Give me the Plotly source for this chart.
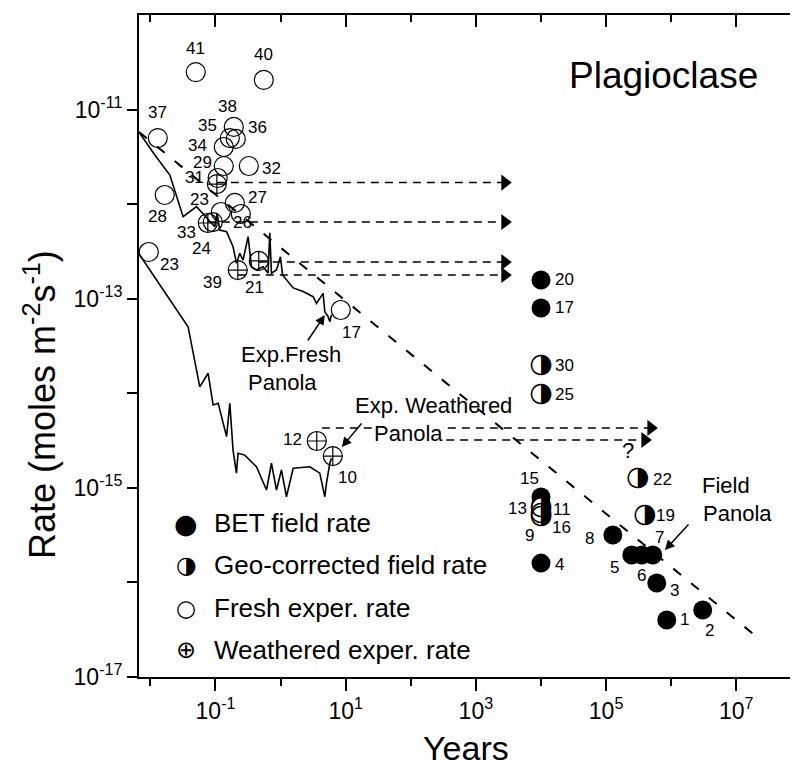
import math
import plotly.graph_objects as go

# ---------------- DATA ----------------
# BET field rates (filled circles)
bet_labels = ["20", "17", "15", "13", "4", "8", "5", "6", "7", "3", "1", "2"]
bet_years = [1e4, 1e4, 1e4, 1e4, 1e4, 1.27e5, 2.48e5, 3.54e5, 5.21e5, 6.0e5, 8.55e5, 3.05e6]
bet_rates = [1.58e-13, 7.98e-14, 8.0e-16, 6.92e-16, 1.60e-16, 3.17e-16, 1.95e-16, 1.95e-16,
             1.95e-16, 9.86e-17, 4.01e-17, 5.1e-17]

# Geo-corrected field rates (half-filled circles)
geo_labels = ["30", "25", "11", "16", "9", "22", "19"]
geo_years = [1e4, 1e4, 1e4, 1e4, 1e4, 3.07e5, 3.94e5]
geo_rates = [1.99e-14, 9.82e-15, 6.27e-16, 5.42e-16, 5.04e-16, 1.27e-15, 5.16e-16]

# Fresh experimental rates (open circles)
fresh_labels = ["41", "40", "37", "38", "36", "35", "34", "29", "32", "31", "28", "27", "23",
                "26", "24", "23", "17"]
fresh_years = [4.98e-2, 0.552, 1.30e-2, 0.191, 0.205, 0.166, 0.134, 0.134, 0.325, 0.108,
               1.66e-2, 0.198, 0.121, 0.245, 9.1e-2, 9.44e-3, 8.41]
fresh_rates = [2.49e-11, 2.06e-11, 5.0e-12, 6.55e-12, 4.89e-12, 5.0e-12, 4.02e-12, 2.53e-12,
               2.53e-12, 1.89e-12, 1.25e-12, 1.03e-12, 8.26e-13, 7.87e-13, 6.47e-13, 3.12e-13,
               7.6e-14]

# Weathered experimental rates (crossed circles)
weath_labels = ["", "33", "39", "21", "12", "10"]
weath_years = [0.105, 7.62e-2, 0.220, 0.462, 3.60, 6.34]
weath_rates = [1.63e-12, 6.32e-13, 2.01e-13, 2.51e-13, 3.13e-15, 2.17e-15]

# Experimental Panola curves
fresh_panola_years = [6.87e-3, 1.17e-2, 1.99e-2, 3.18e-2, 5.11e-2, 7.69e-2, 9.75e-2, 0.106,
                      0.116, 0.148, 0.166, 0.186, 0.210, 0.236, 0.265, 0.317, 0.357, 0.426,
                      0.538, 0.643, 0.682, 0.724, 0.865, 0.996, 1.07, 1.23, 1.56, 2.22, 3.16,
                      3.56, 4.50, 4.78, 5.37, 5.70, 6.05]
fresh_panola_rates = [5.61e-12, 3.31e-12, 2.03e-12, 7.36e-13, 9.4e-13, 6.79e-13, 5.77e-13,
                      8.0e-13, 5.33e-13, 5.12e-13, 4.18e-13, 3.55e-13, 2.37e-13, 3.02e-13,
                      2.56e-13, 4.53e-13, 2.18e-13, 2.01e-13, 2.18e-13, 1.86e-13, 4.99e-13,
                      1.86e-13, 2.01e-13, 2.78e-13, 1.78e-13, 1.58e-13, 1.30e-13, 1.19e-13,
                      1.05e-13, 8.93e-14, 1.14e-13, 7.29e-14, 6.46e-14, 5.71e-14, 6.73e-14]

weath_panola_years = [6.87e-3, 1.57e-2, 3.79e-2, 5.74e-2, 7.69e-2, 9.19e-2, 0.110, 0.148,
                      0.166, 0.186, 0.210, 0.222, 0.282, 0.426, 0.607, 0.724, 0.865, 1.03,
                      1.23, 1.56, 2.81, 4.00, 4.78, 5.07, 5.70, 6.05]
weath_panola_rates = [2.90e-13, 1.24e-13, 5.06e-14, 1.17e-14, 1.63e-14, 7.52e-15, 7.83e-15,
                      3.48e-15, 7.83e-15, 2.51e-15, 1.43e-15, 2.32e-15, 2.22e-15, 1.67e-15,
                      9.48e-16, 1.82e-15, 9.48e-16, 1.55e-15, 8.05e-16, 1.61e-15, 1.67e-15,
                      1.43e-15, 8.05e-16, 1.12e-15, 1.82e-15, 2.05e-15]

# Dashed trend line
trend_years = [6.7e-3, 2.3e7]
trend_rates = [5.8e-12, 2.5e-17]

# Dashed horizontal arrows
arrow_from_years = [0.105, 7.62e-2, 0.462, 0.220, 4.3, 350]
arrow_to_years = [2.78e3, 2.78e3, 2.78e3, 2.78e3, 4.87e5, 3.94e5]
arrow_rates = [1.69e-12, 6.47e-13, 2.44e-13, 1.78e-13, 4.3e-15, 3.21e-15]

x_tick_vals = [1e-1, 1e1, 1e3, 1e5, 1e7]
x_tick_text = ["10<sup>-1</sup>", "10<sup>1</sup>", "10<sup>3</sup>", "10<sup>5</sup>", "10<sup>7</sup>"]
x_minor_vals = [1e-2, 1e0, 1e2, 1e4, 1e6]
y_tick_vals = [1e-11, 1e-13, 1e-15, 1e-17]
y_tick_text = ["10<sup>-11</sup>", "10<sup>-13</sup>", "10<sup>-15</sup>", "10<sup>-17</sup>"]
y_minor_vals = [1e-12, 1e-14, 1e-16]

# ---------------- STYLE ----------------
bet_off = [(24, 0), (24, 0), (-11, -19), (-23, 6), (19, 1), (-23, 3), (-17, 12), (0, 20),
           (7, -18), (18, 7), (18, 0), (7, 20)]
geo_off = [(24, 0), (24, 0), (21, 2), (21, 14), (-11, 19), (25, 1), (21, 0)]
fresh_off = [(0, -24), (0, -25), (0, -26), (-6, -20), (22, -11), (-22, -13), (-26, -2),
             (-21, -4), (23, 2), (-23, -1), (-7, 22), (23, -5), (-21, -12), (2, 9), (-11, 26),
             (21, 13), (11, 23)]
weath_off = [(0, 0), (-21, 10), (-25, 12), (-4, 27), (-24, -1), (15, 21)]

FONT = "Liberation Sans, Arial, sans-serif"
MS = 19
LBL = 17

fig = go.Figure()

# trend line
fig.add_trace(go.Scatter(x=trend_years, y=trend_rates, mode="lines",
                         line=dict(color="black", width=2, dash="10px,13px"),
                         hoverinfo="skip", showlegend=False))

# arrows (dashed shafts)
ax_, ay_ = [], []
for x0, x1, r in zip(arrow_from_years, arrow_to_years, arrow_rates):
    ax_ += [x0, x1, None]
    ay_ += [r, r, None]
fig.add_trace(go.Scatter(x=ax_, y=ay_, mode="lines",
                         line=dict(color="black", width=1.5, dash="8px,6px"),
                         hoverinfo="skip", showlegend=False))
fig.add_trace(go.Scatter(x=arrow_to_years, y=arrow_rates, mode="markers",
                         marker=dict(symbol="triangle-right", size=14, color="black"),
                         hoverinfo="skip", showlegend=False))

# panola curves
fig.add_trace(go.Scatter(x=fresh_panola_years, y=fresh_panola_rates, mode="lines",
                         line=dict(color="black", width=1.6), showlegend=False))
fig.add_trace(go.Scatter(x=weath_panola_years, y=weath_panola_rates, mode="lines",
                         line=dict(color="black", width=1.6), showlegend=False))

# markers
fig.add_trace(go.Scatter(x=fresh_years, y=fresh_rates, mode="markers",
                         marker=dict(symbol="circle-open", size=MS, color="black",
                                     line=dict(width=1.2, color="black")), showlegend=False))
fig.add_trace(go.Scatter(x=weath_years, y=weath_rates, mode="markers",
                         marker=dict(symbol="circle-cross-open", size=MS, color="black",
                                     line=dict(width=1.2, color="black")), showlegend=False))
fig.add_trace(go.Scatter(x=bet_years, y=bet_rates, mode="markers",
                         marker=dict(symbol="circle", size=MS, color="black",
                                     line=dict(width=0)), showlegend=False))
# half-filled: white disc underneath + right-half-black circle glyph
fig.add_trace(go.Scatter(x=geo_years, y=geo_rates, mode="markers",
                         marker=dict(symbol="circle", size=MS - 2, color="white",
                                     line=dict(width=0)), showlegend=False))
fig.add_trace(go.Scatter(x=geo_years, y=geo_rates, mode="text", text=["◑"] * len(geo_years),
                         textposition="middle center",
                         textfont=dict(family="DejaVu Sans", size=27, color="black"),
                         showlegend=False))

# dummy trace for top axis
fig.add_trace(go.Scatter(x=[1], y=[1e-12], xaxis="x2", mode="markers",
                         marker=dict(opacity=0), hoverinfo="skip", showlegend=False))

annotations = []


def add_labels(labels, xs, ys, offs):
    for t, x, y, (dx, dy) in zip(labels, xs, ys, offs):
        if not t:
            continue
        annotations.append(dict(x=math.log10(x), y=math.log10(y), xref="x", yref="y",
                                text=t, showarrow=False, xshift=dx, yshift=-dy,
                                font=dict(family=FONT, size=LBL, color="black")))


add_labels(bet_labels, bet_years, bet_rates, bet_off)
add_labels(geo_labels, geo_years, geo_rates, geo_off)
add_labels(fresh_labels, fresh_years, fresh_rates, fresh_off)
add_labels(weath_labels, weath_years, weath_rates, weath_off)

# plot area in page pixels (page has an 8px body margin)
X0, W, Y0, H = 139, 659, 15, 662


def px(x):
    return (x - X0) / W


def py(y):
    return (Y0 + H - y) / H


def txt(t, x, y, size=22, xanchor="center", bg=None):
    d = dict(text=t, x=px(x), y=py(y), xref="paper", yref="paper", showarrow=False,
             xanchor=xanchor, yanchor="middle", font=dict(family=FONT, size=size, color="black"))
    if bg:
        d["bgcolor"] = bg
    annotations.append(d)


txt("Plagioclase", 663, 75, 37)
txt("Exp.Fresh", 291, 355)
txt("Panola", 282, 382)
txt("Exp. Weathered", 433, 405)
txt("Panola", 408, 433, bg="white")
txt("Field", 700, 485, xanchor="left")
txt("Panola", 701, 513, xanchor="left")
txt("?", 628, 450)

# pointer arrows (tip in data coords, tail offset in px)
for tipx, tipy, axp, ayp in [(4.78, 6.73e-14, -18, 27), (8.7, 2.7e-15, 21, -25),
                             (8.0e5, 2.2e-16, 25, -27)]:
    annotations.append(dict(x=math.log10(tipx), y=math.log10(tipy), xref="x", yref="y",
                            text="", showarrow=True, arrowhead=2, arrowsize=1.3,
                            arrowwidth=1.5, arrowcolor="black", ax=axp, ay=ayp))

# legend (manual)
leg = [("●", 27, "BET field rate", 523), ("◑", 24, "Geo-corrected field rate", 565),
       ("○", 23, "Fresh exper. rate", 608), ("⊕", 24, "Weathered exper. rate", 650)]
for g, gs, t, yy in leg:
    annotations.append(dict(text=g, x=px(186), y=py(yy), xref="paper", yref="paper",
                            showarrow=False, xanchor="center", yanchor="middle",
                            font=dict(family="DejaVu Sans", size=gs, color="black")))
    annotations.append(dict(text=t, x=px(212), y=py(yy), xref="paper", yref="paper",
                            showarrow=False, xanchor="left", yanchor="middle",
                            font=dict(family=FONT, size=26, color="black")))

# axis titles
annotations.append(dict(text="Years", x=px(466), y=py(748), xref="paper", yref="paper",
                        showarrow=False, xanchor="center", yanchor="middle",
                        font=dict(family=FONT, size=34, color="black")))
annotations.append(dict(text="Rate (moles m<sup>-2</sup>s<sup>-1</sup>)", x=px(40), y=py(405),
                        xref="paper", yref="paper", showarrow=False, textangle=-90,
                        xanchor="center", yanchor="middle",
                        font=dict(family=FONT, size=36, color="black")))

xr = [-2.175, -2.175 + 659 / 65.1]
axis_common = dict(type="log", showgrid=False, zeroline=False, showline=True, linewidth=2,
                   linecolor="black", tickcolor="black", tickwidth=2,
                   tickfont=dict(family=FONT, size=23, color="black"))

fig.update_layout(
    width=790, height=765,
    margin=dict(l=131, r=0, t=7, b=96),
    paper_bgcolor="white", plot_bgcolor="white",
    showlegend=False,
    xaxis=dict(**axis_common, range=xr, ticks="outside", ticklen=12,
               tickmode="array", tickvals=x_tick_vals, ticktext=x_tick_text,
               minor=dict(tickmode="array", tickvals=x_minor_vals, ticks="outside",
                          ticklen=7, tickwidth=2, tickcolor="black")),
    xaxis2=dict(**axis_common, range=xr, overlaying="x", side="top", anchor="y",
                ticks="inside", ticklen=12, tickmode="array", tickvals=x_tick_vals,
                showticklabels=False,
                minor=dict(tickmode="array", tickvals=x_minor_vals, ticks="inside",
                           ticklen=7, tickwidth=2, tickcolor="black")),
    yaxis=dict(**axis_common, range=[-17, -10], ticks="outside", ticklen=10,
               tickmode="array", tickvals=y_tick_vals, ticktext=y_tick_text,
               minor=dict(tickmode="array", tickvals=y_minor_vals, ticks="outside",
                          ticklen=10, tickwidth=2, tickcolor="black")),
    annotations=annotations,
)

fig.write_html("out.html")
